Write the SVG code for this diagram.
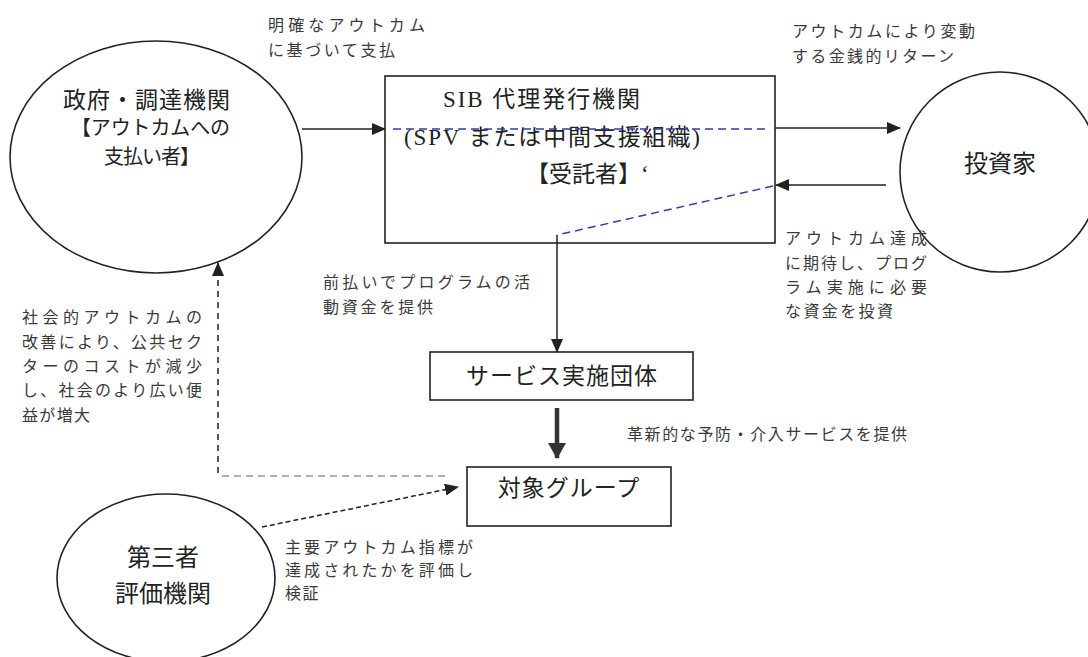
<svg xmlns="http://www.w3.org/2000/svg" width="1088" height="657" viewBox="0 0 1088 657">
<style>
.node{fill:#fff;stroke:#222;stroke-width:1.6}
.t{font-family:"Liberation Serif","Noto Sans CJK JP",serif;fill:#222}
.lb{font-family:"Noto Sans CJK JP","Noto Sans",sans-serif;font-size:16px;fill:#3a3a3a}
.c{fill:none;stroke:#222;stroke-width:1.5}
.blue{fill:none;stroke:#2b3fa8;stroke-width:1.5;stroke-dasharray:8 5}
</style>
<defs>
<marker id="ah" markerUnits="userSpaceOnUse" markerWidth="14" markerHeight="12" refX="13" refY="6" orient="auto">
<path d="M0,0 L14,6 L0,12 Z" fill="#222"/>
</marker>
<marker id="ahb" markerUnits="userSpaceOnUse" markerWidth="16" markerHeight="18" refX="15" refY="9" orient="auto">
<path d="M0,0 L16,9 L0,18 Z" fill="#333"/>
</marker>
</defs>
<rect width="1088" height="657" fill="#fff"/>

<g id="gov">
<ellipse class="node" cx="156" cy="157" rx="146" ry="116"/>
<text class="t" x="63" y="108" font-size="23" textLength="167" lengthAdjust="spacing">政府・調達機関</text>
<text class="t" x="71" y="135" font-size="20" textLength="159" lengthAdjust="spacing">【アウトカムへの</text>
<text class="t" x="104" y="164" font-size="20" textLength="96" lengthAdjust="spacing">支払い者】</text>
</g>

<g id="sib">
<rect class="node" x="385" y="76" width="390" height="167"/>
<text class="t" x="443" y="107" font-size="23" textLength="197" lengthAdjust="spacing">SIB 代理発行機関</text>
<text class="t" x="404" y="145" font-size="23" textLength="296" lengthAdjust="spacing">(SPV または中間支援組織)</text>
<text class="t" x="526" y="182" font-size="23">【受託者】‘</text>
</g>

<g id="investor">
<circle class="node" cx="1000" cy="172" r="100"/>
<text class="t" x="1000" y="172" font-size="24" text-anchor="middle">投資家</text>
</g>

<g id="service">
<rect class="node" x="430" y="352" width="263" height="48"/>
<text class="t" x="562" y="384" font-size="23" text-anchor="middle" letter-spacing="1">サービス実施団体</text>
</g>

<g id="target">
<rect class="node" x="467" y="467" width="204" height="59"/>
<text class="t" x="569" y="496" font-size="23" text-anchor="middle" letter-spacing="1">対象グループ</text>
</g>

<g id="evaluator">
<ellipse class="node" cx="166" cy="578" rx="109" ry="84"/>
<text class="t" x="163" y="566" font-size="24" text-anchor="middle">第三者</text>
<text class="t" x="163" y="602" font-size="24" text-anchor="middle">評価機関</text>
</g>

<g id="connectors">
<line class="c" x1="302" y1="129" x2="385" y2="129" marker-end="url(#ah)"/>
<line class="blue" x1="393" y1="129" x2="765" y2="129"/>
<line class="c" x1="775" y1="128" x2="900" y2="128" marker-end="url(#ah)"/>
<line class="c" x1="886" y1="185" x2="776" y2="185" marker-end="url(#ah)"/>
<line class="blue" x1="773" y1="186" x2="557" y2="235"/>
<line class="c" x1="557" y1="235" x2="557" y2="352" marker-end="url(#ah)"/>
<line x1="557" y1="408" x2="557" y2="458" stroke="#333" stroke-width="4.5" marker-end="url(#ahb)"/>
<line class="c" x1="218" y1="473" x2="218" y2="263" stroke="#333" stroke-dasharray="6 5" marker-end="url(#ah)"/>
<line x1="222" y1="476" x2="447" y2="476" stroke="#999" stroke-width="1.5" stroke-dasharray="7 5"/>
<line class="c" x1="262" y1="527" x2="458" y2="487" stroke-dasharray="5 3" marker-end="url(#ah)"/>
</g>

<g id="labels">
<text class="lb" x="268" y="31" textLength="157" lengthAdjust="spacing">明確なアウトカム</text>
<text class="lb" x="268" y="56" textLength="127" lengthAdjust="spacing">に基づいて支払</text>
<text class="lb" x="792" y="37" textLength="183" lengthAdjust="spacing">アウトカムにより変動</text>
<text class="lb" x="792" y="62" textLength="162" lengthAdjust="spacing">する金銭的リターン</text>
<text class="lb" x="785" y="244" textLength="142" lengthAdjust="spacing">アウトカム達成</text>
<text class="lb" x="785" y="269" textLength="142" lengthAdjust="spacing">に期待し、プログ</text>
<text class="lb" x="785" y="293" textLength="142" lengthAdjust="spacing">ラム実施に必要</text>
<text class="lb" x="785" y="317" textLength="108" lengthAdjust="spacing">な資金を投資</text>
<text class="lb" x="323" y="288" textLength="207" lengthAdjust="spacing">前払いでプログラムの活</text>
<text class="lb" x="323" y="313" textLength="110" lengthAdjust="spacing">動資金を提供</text>
<text class="lb" x="22" y="323" textLength="180" lengthAdjust="spacing">社会的アウトカムの</text>
<text class="lb" x="22" y="348" textLength="180" lengthAdjust="spacing">改善により、公共セク</text>
<text class="lb" x="22" y="372" textLength="180" lengthAdjust="spacing">ターのコストが減少</text>
<text class="lb" x="22" y="396" textLength="180" lengthAdjust="spacing">し、社会のより広い便</text>
<text class="lb" x="22" y="421" textLength="68" lengthAdjust="spacing">益が増大</text>
<text class="lb" x="627" y="440" letter-spacing="1.6">革新的な予防・介入サービスを提供</text>
<text class="lb" x="285" y="553" textLength="188" lengthAdjust="spacing">主要アウトカム指標が</text>
<text class="lb" x="285" y="576" textLength="188" lengthAdjust="spacing">達成されたかを評価し</text>
<text class="lb" x="285" y="599" letter-spacing="1.5">検証</text>
</g>
</svg>
